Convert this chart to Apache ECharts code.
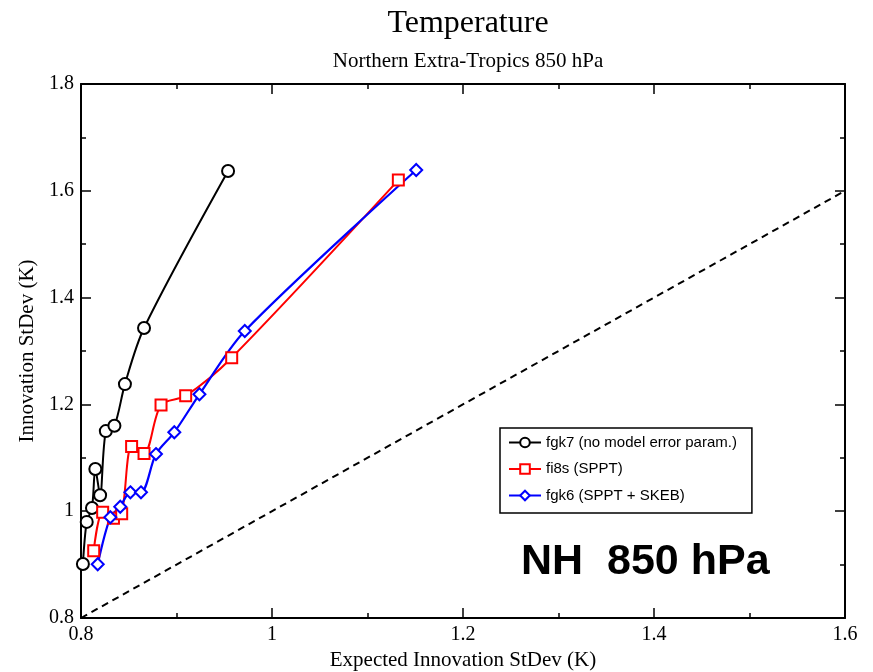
<!DOCTYPE html>
<html><head><meta charset="utf-8">
<script src="https://cdn.jsdelivr.net/npm/echarts@6/dist/echarts.min.js"></script>
<style>html,body{margin:0;padding:0;background:#fff}#c{width:873px;height:672px}</style>
</head><body><div id="c"></div>
<script>
// Data
const fgk7X = [0.802, 0.806, 0.8115, 0.815, 0.820, 0.826, 0.835, 0.846, 0.866, 0.954];
const fgk7Y = [0.901, 0.980, 1.006, 1.079, 1.030, 1.150, 1.160, 1.238, 1.343, 1.637];
const fi8sX = [0.8133, 0.8227, 0.834, 0.8426, 0.853, 0.866, 0.8838, 0.9096, 0.9578, 1.1323];
const fi8sY = [0.926, 0.998, 0.987, 0.995, 1.121, 1.108, 1.199, 1.216, 1.2875, 1.620];
const fgk6X = [0.8175, 0.8307, 0.8411, 0.8517, 0.8628, 0.8785, 0.8977, 0.924, 0.9715, 1.151];
const fgk6Y = [0.9006, 0.9886, 1.0084, 1.0354, 1.0354, 1.107, 1.1478, 1.219, 1.3375, 1.639];
const diagX = [0.8, 1.6];
const diagY = [0.8, 1.6];
const seriesNames = ['fgk7 (no model error param.)', 'fi8s (SPPT)', 'fgk6 (SPPT + SKEB)'];
const xTickLabels = ['0.8', '1', '1.2', '1.4', '1.6'];
const yTickLabels = ['0.8', '1', '1.2', '1.4', '1.6', '1.8'];

const zip = (a, b) => a.map((v, i) => [v, b[i]]);
const serif = 'Liberation Serif';
const sans = 'Liberation Sans';

const axisBase = {
  type: 'value', min: 0.8, max: 1.6, interval: 0.2,
  axisLine: { show: true, onZero: false, lineStyle: { color: '#000', width: 2 } },
  axisTick: { show: true, inside: true, length: 10, lineStyle: { color: '#000', width: 1.5 } },
  minorTick: { show: true, splitNumber: 2, length: 5, lineStyle: { color: '#000', width: 1.5 } },
  splitLine: { show: false }
};

const chart = echarts.init(document.getElementById('c'), null, { renderer: 'canvas' });
chart.setOption({
  animation: false,
  backgroundColor: '#fff',
  title: [
    { text: 'Temperature', left: 463, top: 3, textAlign: 'center',
      textStyle: { fontFamily: serif, fontSize: 32, fontWeight: 'normal', color: '#000' } },
    { text: 'Northern Extra-Tropics 850 hPa', left: 463, top: 46, textAlign: 'center',
      textStyle: { fontFamily: serif, fontSize: 21, fontWeight: 'normal', color: '#000' } }
  ],
  grid: { left: 81, right: 28, top: 84, bottom: 54, containLabel: false, outerBoundsMode: 'none' },
  xAxis: [
    Object.assign({}, axisBase, {
      position: 'bottom',
      name: 'Expected Innovation StDev (K)', nameLocation: 'middle', nameGap: 29,
      nameTextStyle: { fontFamily: serif, fontSize: 21, color: '#000' },
      axisLabel: { show: true, fontFamily: serif, fontSize: 20, color: '#000', margin: 7,
        formatter: v => xTickLabels.find(t => Math.abs(parseFloat(t) - v) < 1e-6) || '' }
    }),
    Object.assign({}, axisBase, { position: 'top', axisLabel: { show: false } })
  ],
  yAxis: [
    Object.assign({}, axisBase, {
      min: 0.8, max: 1.8, position: 'left',
      name: 'Innovation StDev (K)', nameLocation: 'middle', nameGap: 39, nameRotate: 90,
      nameTextStyle: { fontFamily: serif, fontSize: 21, color: '#000' },
      axisLabel: { show: true, fontFamily: serif, fontSize: 20, color: '#000', margin: 7,
        formatter: v => yTickLabels.find(t => Math.abs(parseFloat(t) - v) < 1e-6) || '' }
    }),
    Object.assign({}, axisBase, { min: 0.8, max: 1.8, position: 'right', axisLabel: { show: false } })
  ],
  legend: {
    orient: 'vertical', left: 500, top: 428,
    data: seriesNames,
    itemWidth: 32, itemHeight: 12, itemGap: 11.5,
    padding: [7, 15, 10, 8],
    borderColor: '#000', borderWidth: 1.5,
    backgroundColor: '#fff',
    textStyle: { fontFamily: sans, fontSize: 15, color: '#000' }
  },
  graphic: [
    { type: 'text', left: 521, top: 541,
      style: { text: 'NH  850 hPa', font: 'bold 43px "Liberation Sans"', fill: '#000' } }
  ],
  series: [
    { name: 'diag', type: 'line', data: zip(diagX, diagY), symbol: 'none', silent: true,
      lineStyle: { color: '#000', width: 2, type: [7, 5] }, z: 1 },
    { name: seriesNames[0], type: 'line', data: zip(fgk7X, fgk7Y), smooth: 0.3,
      symbol: 'emptyCircle', symbolSize: 12, color: '#000',
      itemStyle: { color: '#000', borderWidth: 1.4 }, lineStyle: { color: '#000', width: 2 } },
    { name: seriesNames[1], type: 'line', data: zip(fi8sX, fi8sY), smooth: 0.3,
      symbol: 'emptyRect', symbolSize: 11, color: '#ff0000',
      itemStyle: { color: '#ff0000', borderWidth: 1.4 }, lineStyle: { color: '#ff0000', width: 2 } },
    { name: seriesNames[2], type: 'line', data: zip(fgk6X, fgk6Y), smooth: 0.3,
      symbol: 'emptyDiamond', symbolSize: 12, color: '#0000ff',
      itemStyle: { color: '#0000ff', borderWidth: 1.4 }, lineStyle: { color: '#0000ff', width: 2.2 } }
  ]
});
</script></body></html>
